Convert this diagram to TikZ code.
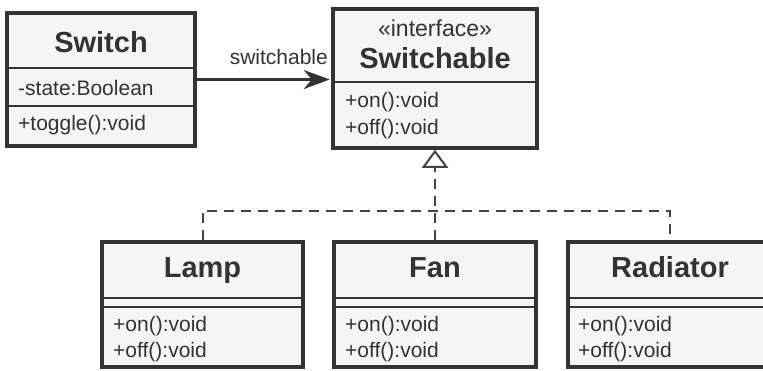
\documentclass[tikz,border=0pt]{standalone}
\usepackage{fontspec}
\setmainfont{Liberation Sans}
\usepackage{tikz}
\usetikzlibrary{positioning, calc, arrows.meta}
\definecolor{ink}{HTML}{333333}
\definecolor{pane}{HTML}{F5F5F5}
\definecolor{linkgray}{HTML}{444444}

\begin{document}
\begin{tikzpicture}[x=1pt, y=-1pt,
                    every node/.style = {inner sep=0pt, text=ink, font=\fontsize{21}{25}\selectfont},
                    classbox/.style = {draw=ink, fill=pane, line width=3.5pt},
                    title/.style = {anchor=base, font=\fontsize{29}{34}\selectfont\bfseries},
                    member/.style = {anchor=base west},
                    divider/.style = {draw=ink, line width=2pt},
                    realize/.style = {draw=linkgray, line width=2pt, dash pattern=on 10pt off 7pt},
                    assoc/.style = {draw=ink, line width=2.5pt, -{Stealth[length=26pt, width=19pt, inset=8pt]}}]
                \useasboundingbox (0,0) rectangle (763,370);
                % class boxes
                \node (switch)     [classbox, minimum width=188pt, minimum height=133pt] at (101,79.5)  {};
                \node (switchable) [classbox, minimum width=204pt, minimum height=139pt] at (435,78.5)  {};
                \node (lamp)       [classbox, minimum width=201pt, minimum height=125pt] at (202.5,304.5) {};
                \node (fan)        [classbox, minimum width=202pt, minimum height=125pt] at (435,304.5) {};
                \node (radiator)   [classbox, minimum width=204pt, minimum height=125pt] at (670,304.5) {};
                % compartments
                \draw[divider] (switch.west |- 0,68)      -- (switch.east |- 0,68);
                \draw[divider] (switch.west |- 0,106)     -- (switch.east |- 0,106);
                \draw[divider] (switchable.west |- 0,82)  -- (switchable.east |- 0,82);
                \draw[divider] (lamp.west |- 0,298)       -- (lamp.east |- 0,298);
                \draw[divider] (lamp.west |- 0,307)       -- (lamp.east |- 0,307);
                \draw[divider] (fan.west |- 0,298)        -- (fan.east |- 0,298);
                \draw[divider] (fan.west |- 0,307)        -- (fan.east |- 0,307);
                \draw[divider] (radiator.west |- 0,298)   -- (radiator.east |- 0,298);
                \draw[divider] (radiator.west |- 0,307)   -- (radiator.east |- 0,307);
                % names and members
                \node (switchname) [title] at (101,52) {Switch};
                \node (state)  [member] at (18,95)  {-state:Boolean};
                \node (toggle) [member] at (18,130) {+toggle():void};
                \node (stereo) [anchor=base, font=\fontsize{23}{27}\selectfont] at (435,36.5) {«interface»};
                \node (switchablename) [title] at (435,68) {Switchable};
                \node (ifaceon)  [member] at (345,107) {+on():void};
                \node (ifaceoff) [member] at (345,134) {+off():void};
                \node (lampname) [title] at (202.5,277.5) {Lamp};
                \node (lampon)   [member] at (113,331) {+on():void};
                \node (lampoff)  [member] at (113,357) {+off():void};
                \node (fanname) [title] at (435,277.5) {Fan};
                \node (fanon)   [member] at (345,331) {+on():void};
                \node (fanoff)  [member] at (345,357) {+off():void};
                \node (radiatorname) [title] at (670,277.5) {Radiator};
                \node (radiatoron)   [member] at (578,331) {+on():void};
                \node (radiatoroff)  [member] at (578,357) {+off():void};
                % relations
                \coordinate (hub) at (435,211);
                \draw[assoc, shorten >=1.5pt] (switch.east) -- node[above=13.5pt, pos=0.61] {switchable} (switch.east -| switchable.west);
                \draw[realize] (lamp.north) |- (hub) -| (radiator.north);
                \draw[realize, -{Triangle[length=18pt, width=26pt, fill=white]}] (fan.north) -- (switchable.south);
            \end{tikzpicture}
\end{document}
